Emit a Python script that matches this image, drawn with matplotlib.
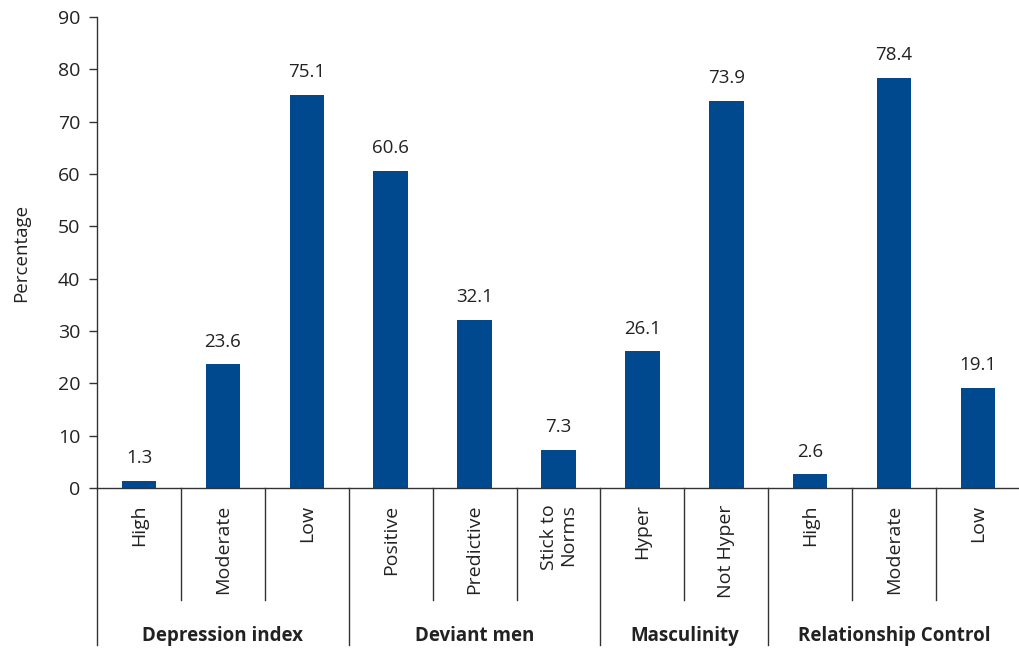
import matplotlib.pyplot as plt
import matplotlib.transforms as mtransforms

categories = ['High', 'Moderate', 'Low',
              'Positive', 'Predictive', 'Stick to\nNorms',
              'Hyper', 'Not Hyper',
              'High', 'Moderate', 'Low']
values = [1.3, 23.6, 75.1, 60.6, 32.1, 7.3, 26.1, 73.9, 2.6, 78.4, 19.1]
groups = ['Depression index', 'Deviant men', 'Masculinity', 'Relationship Control']
group_sizes = [3, 3, 2, 3]

bar_color = '#00498f'
text_color = '#222222'
line_color = '#333333'

plt.rcParams['font.family'] = ['Open Sans', 'DejaVu Sans']

fig = plt.figure(figsize=(10.2, 6.51), dpi=100)
ax = fig.add_axes([97 / 1020, 163 / 651, 923 / 1020, 471 / 651])

x = list(range(len(categories)))
ax.bar(x, values, width=0.41, color=bar_color, zorder=2)

for xi, v in zip(x, values):
    ax.annotate(f'{v:.1f}', (xi, v), xytext=(0, 10), textcoords='offset points',
                ha='center', va='bottom', fontsize=13.5, color=text_color)

ax.set_xlim(-0.5, len(categories) - 0.5)
ax.set_ylim(0, 90)
ax.set_yticks(range(0, 91, 10))
ax.tick_params(axis='y', direction='out', length=6, width=1, color=line_color,
               labelsize=14, labelcolor=text_color, pad=6)
ax.set_xticks([])
for s in ['top', 'right']:
    ax.spines[s].set_visible(False)
for s in ['left', 'bottom']:
    ax.spines[s].set_color(line_color)
    ax.spines[s].set_linewidth(1)

ax.set_ylabel('Percentage', fontsize=13.5, color=text_color, labelpad=20)

# category labels under the axis, rotated
trans = mtransforms.blended_transform_factory(ax.transData, ax.transAxes)
for xi, lab in zip(x, categories):
    ax.text(xi, -0.035, lab, rotation=90, ha='center', va='top', multialignment='right',
            fontsize=14, color=text_color, transform=trans, linespacing=1.05)

# separators between categories and groups
bounds = [-0.5]
for n in group_sizes:
    bounds.append(bounds[-1] + n)
for i in range(len(categories)):
    xb = i - 0.5
    if xb in bounds:
        ax.plot([xb, xb], [0, -0.333], color=line_color, lw=1, transform=trans, clip_on=False)
    else:
        ax.plot([xb, xb], [0, -0.238], color=line_color, lw=1, transform=trans, clip_on=False)

for g, lo, hi in zip(groups, bounds[:-1], bounds[1:]):
    ax.text((lo + hi) / 2, -0.315, g, ha='center', va='center', fontsize=13.5,
            fontweight='bold', color=text_color, transform=trans)

fig.savefig('out.png', dpi=100)
